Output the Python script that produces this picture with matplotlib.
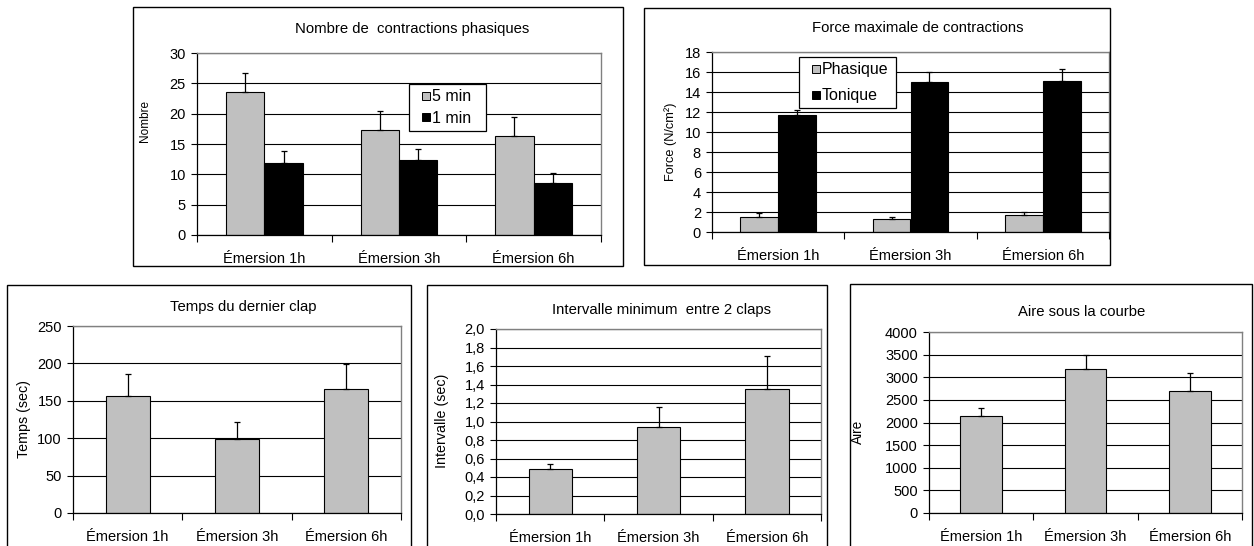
import numpy as np
import matplotlib
matplotlib.use("Agg")
import matplotlib.pyplot as plt
from matplotlib.lines import Line2D
from matplotlib.patches import Rectangle
from matplotlib.ticker import FuncFormatter, FixedLocator, MultipleLocator

plt.rcParams["font.family"] = ["Liberation Sans", "DejaVu Sans"]

# data
categories = ["Émersion 1h", "Émersion 3h", "Émersion 6h"]

contr_5min = [23.6, 17.3, 16.4]
contr_5min_err = [3.1, 3.1, 3.1]
contr_1min = [11.9, 12.3, 8.5]
contr_1min_err = [1.9, 1.9, 1.8]

force_phasique = [1.55, 1.3, 1.7]
force_phasique_err = [0.35, 0.2, 0.35]
force_tonique = [11.7, 15.0, 15.15]
force_tonique_err = [0.5, 1.0, 1.15]

temps = [157, 99, 166]
temps_err = [29, 23, 33]

intervalle = [0.49, 0.94, 1.35]
intervalle_err = [0.05, 0.22, 0.36]

aire = [2140, 3180, 2700]
aire_err = [190, 310, 385]

W, H = 1254, 546
GRAY = "#C0C0C0"
fig = plt.figure(figsize=(W / 100, H / 100), dpi=100)


def px_axes(x0, y0, x1, y1):
    # pixel box (top-left origin) -> axes in figure fraction
    return fig.add_axes([x0 / W, 1 - y1 / H, (x1 - x0) / W, (y1 - y0) / H])


def frame(x0, y0, x1, y1):
    fig.patches.append(Rectangle((x0 / W, 1 - y1 / H), (x1 - x0) / W, (y1 - y0) / H,
                                 transform=fig.transFigure, fill=False,
                                 edgecolor="black", linewidth=1.0, zorder=0))


def fig_text(x, y, s, **kw):
    fig.text(x / W, 1 - y / H, s, ha="center", va="center", **kw)


def style_axes(ax, ymax, step, fmt=None):
    ax.set_xlim(-0.5, 2.5)
    ax.set_ylim(0, ymax)
    ax.yaxis.set_major_locator(MultipleLocator(step))
    if fmt is not None:
        ax.yaxis.set_major_formatter(FuncFormatter(fmt))
    ax.grid(axis="y", color="black", linewidth=0.8)
    ax.set_axisbelow(True)
    ax.set_xticks(range(3))
    ax.set_xticklabels(categories)
    ax.xaxis.set_minor_locator(FixedLocator([-0.5, 0.5, 1.5, 2.5]))
    ax.tick_params(axis="x", which="major", length=0, pad=12.5, labelsize=10.5)
    ax.tick_params(axis="x", which="minor", length=5, width=0.8, direction="out")
    ax.tick_params(axis="y", length=4, width=0.8, direction="out", pad=4, labelsize=10.5)
    for side in ("top", "right"):
        ax.spines[side].set_color("#808080")
        ax.spines[side].set_linewidth(1.0)
    for side in ("left", "bottom"):
        ax.spines[side].set_linewidth(0.9)


def bars(ax, x, vals, errs, color, width):
    ax.bar(x, vals, width=width, color=color, edgecolor="black", linewidth=0.8, zorder=2)
    ax.errorbar(x, vals, yerr=[np.zeros(len(errs)), errs], fmt="none",
                ecolor="black", elinewidth=0.9, capsize=2.5, capthick=0.9, zorder=3)


def square(color):
    return Line2D([], [], marker="s", linestyle="none", markersize=5.5,
                  markerfacecolor=color, markeredgecolor="black", markeredgewidth=0.7)


def legend_box(ax, labels, colors, x0, y0, x1, y1, spacing):
    leg = ax.legend([square(c) for c in colors], labels,
                    bbox_to_anchor=(x0 / W, 1 - y1 / H, (x1 - x0) / W, (y1 - y0) / H),
                    bbox_transform=fig.transFigure, mode="expand", loc="upper left",
                    frameon=True, fancybox=False, framealpha=1, edgecolor="black",
                    fontsize=11.5, handlelength=1.5, handletextpad=-0.4,
                    borderpad=0.33, labelspacing=spacing, borderaxespad=0)
    leg.get_frame().set_linewidth(0.9)
    return leg


x = np.arange(3)
w2 = 1 / 3.5
w1 = 0.4

# panel frames
frame(133, 7, 623, 266)
frame(644, 8, 1110, 265)
frame(7, 285, 411, 560)
frame(427, 285, 827, 560)
frame(850, 284, 1252, 560)

# Nombre de contractions phasiques
ax1 = px_axes(197, 53, 601, 235)
bars(ax1, x - w2 / 2, contr_5min, contr_5min_err, GRAY, w2)
bars(ax1, x + w2 / 2, contr_1min, contr_1min_err, "black", w2)
style_axes(ax1, 30, 5)
fig_text(412, 29, "Nombre de  contractions phasiques", fontsize=10.7)
fig_text(145, 121, "Nombre", fontsize=8.5, rotation=90)
legend_box(ax1, ["5 min", "1 min"], [GRAY, "black"], 409, 84, 486, 129, 0.42)

# Force maximale de contractions
ax2 = px_axes(712, 52, 1109, 232)
bars(ax2, x - w2 / 2, force_phasique, force_phasique_err, GRAY, w2)
bars(ax2, x + w2 / 2, force_tonique, force_tonique_err, "black", w2)
style_axes(ax2, 18, 2)
fig_text(918, 28, "Force maximale de contractions", fontsize=10.7)
fig_text(671, 142, "Force (N/cm²)", fontsize=9.2, rotation=90)
legend_box(ax2, ["Phasique", "Tonique"], [GRAY, "black"], 799, 57, 896, 108, 0.68)

# Temps du dernier clap
ax3 = px_axes(73, 326, 401, 513)
bars(ax3, x, temps, temps_err, GRAY, w1)
style_axes(ax3, 250, 50)
fig_text(243, 307, "Temps du dernier clap", fontsize=10.7)
fig_text(24, 419, "Temps (sec)", fontsize=10.3, rotation=90)

# Intervalle minimum entre 2 claps
ax4 = px_axes(496, 329, 821, 514)
bars(ax4, x, intervalle, intervalle_err, GRAY, w1)
style_axes(ax4, 2.0, 0.2, fmt=lambda v, p: f"{v:.1f}".replace(".", ","))
fig_text(661, 310, "Intervalle minimum  entre 2 claps", fontsize=10.7)
fig_text(442, 421, "Intervalle (sec)", fontsize=10.3, rotation=90)

# Aire sous la courbe
ax5 = px_axes(929, 332, 1242, 513)
bars(ax5, x, aire, aire_err, GRAY, w1)
style_axes(ax5, 4000, 500)
fig_text(1082, 312, "Aire sous la courbe", fontsize=10.7)
fig_text(858, 432, "Aire", fontsize=9.8, rotation=90)

fig.savefig("out.png", dpi=100)
